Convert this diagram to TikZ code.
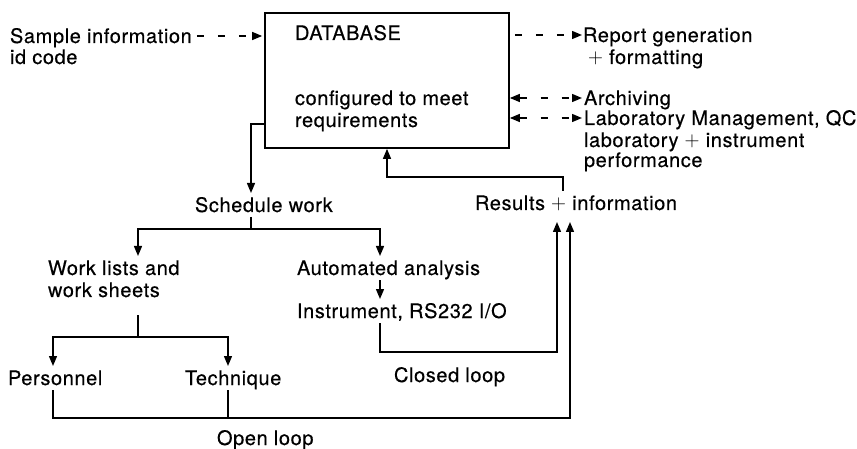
\documentclass[tikz,border=0pt]{standalone}
\usepackage{fontspec}
\setmainfont{TeX Gyre Heros}[LetterSpace=3,FakeBold=0.4]
\usepackage{tikz}
\usetikzlibrary{arrows.meta,positioning,calc}

\begin{document}
\begin{tikzpicture}[x=1pt,y=-1pt,
    every node/.style={font=\fontsize{20}{22}\selectfont},
    txt/.style={anchor=west,inner sep=0pt,outer xsep=0pt,outer ysep=5pt,
                text height=14pt,text depth=0pt},
    ln/.style={line width=1.4pt},
    arr/.style={ln,-{Triangle[length=10pt,width=8pt]}},
    biarr/.style={ln,{Triangle[length=10pt,width=8pt]}-{Triangle[length=10pt,width=8pt]}},
    dsh/.style={dash pattern=on 7pt off 14pt},
    dbstyle/.style={draw,line width=1.7pt,minimum width=244pt,
                    minimum height=135pt,inner sep=0pt}
  ]
  \useasboundingbox (0,0) rectangle (857,449);
  % Database block
  \node[dbstyle] (dbbox) at (387,80.5) {};
  \node[txt] (db)  at (295,33)  {DATABASE};
  \node[txt] (cfg) at (295,98)  {configured to meet};
  \node[txt] (req) at (295,120) {requirements};
  % Inputs and outputs
  \node[txt] (samp)  at (10,36)  {Sample information};
  \node[txt] (sampb) at (10,57)  {id code};
  \node[txt] (rep)   at (583,35) {Report generation};
  \node[txt] (repb)  at (588,57) {$+$ formatting};
  \node[txt] (arch)  at (584,98) {Archiving};
  \node[txt] (lab)   at (584,118) {Laboratory Management, QC};
  \node[txt] (labb)  at (584,140) {laboratory $+$ instrument};
  \node[txt] (labc)  at (584,160) {performance};
  % Work flow
  \node[txt] (sched)  at (195,205) {Schedule work};
  \node[txt] (res)    at (475,203) {Results $+$ information};
  \node[txt] (work)   at (48,268)  {Work lists and};
  \node[txt] (workb)  at (48,290)  {work sheets};
  \node[txt] (auto)   at (297,268) {Automated analysis};
  \node[txt] (inst)   at (297,311) {Instrument, RS232 I/O};
  \node[txt] (pers)   at (8,378)   {Personnel};
  \node[txt] (tech)   at (185,378) {Technique};
  \node[txt] (closed) at (394,375) {Closed loop};
  \node[txt] (open)   at (217,438) {Open loop};
  % Junctions
  \coordinate (sj) at (251,229);
  \coordinate (wb) at (138,315);
  \coordinate (wj) at (138,337);
  \coordinate (cj) at (380,352);
  \coordinate (cr) at (557,352);
  \coordinate (pj) at (53,418);
  \coordinate (tj) at (228,418);
  \coordinate (oj) at (570,418);
  \coordinate (rj) at (563,177);
  \coordinate (rb) at (475,222);
  % Dashed links
  \draw[arr,dsh,shorten <=5pt,shorten >=2pt] (samp.east) -- (samp.east -| dbbox.west);
  \draw[arr,dsh,shorten <=5pt,shorten >=1pt] (rep.west -| dbbox.east) -- (rep.west);
  \draw[biarr,dsh,shorten >=2pt] (arch.west -| dbbox.east) -- (arch.west);
  \draw[biarr,dsh,shorten >=2pt] (lab.west -| dbbox.east) -- (lab.west);
  % Work scheduling
  \draw[arr] ($(req.west -| dbbox.west)+(0,4)$) -| (sj |- sched.north);
  \draw[ln] (sched.south -| sj) -- (sj);
  \draw[arr] (sj) -| (wj |- work.north);
  \draw[arr] (sj) -| (cj |- auto.north);
  \draw[arr] (auto.south -| cj) -- (inst.north -| cj);
  \draw[ln] (wb) -- (wj);
  \draw[arr] (wj) -| (pj |- pers.north);
  \draw[arr] (wj) -| (tj |- tech.north);
  % Loops back to results
  \draw[arr] (inst.south -| cj) -- (cj) -- (cr) -- (cr |- rb);
  \draw[arr] (pers.south -| pj) -- (pj) -- (oj) -- (oj |- rb);
  \draw[ln] (tech.south -| tj) -- (tj);
  \draw[arr] (res.north -| rj) -- (rj) -| (dbbox.south);
\end{tikzpicture}
\end{document}
